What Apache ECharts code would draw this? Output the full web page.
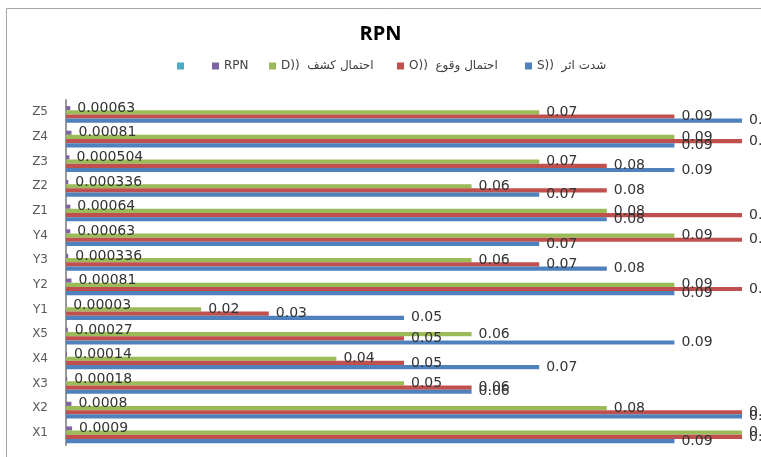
<!DOCTYPE html>
<html>
<head>
<meta charset="utf-8">
<script src="https://cdn.jsdelivr.net/npm/echarts@6/dist/echarts.min.js"></script>
<style>
html,body{margin:0;padding:0;background:#fff;}
#c{width:761px;height:457px;}
</style>
</head>
<body>
<div id="c"></div>
<script>
const categories = ['X1','X2','X3','X4','X5','Y1','Y2','Y3','Y4','Z1','Z2','Z3','Z4','Z5'];
const sValues = [0.09,0.1,0.06,0.07,0.09,0.05,0.09,0.08,0.07,0.08,0.07,0.09,0.09,0.1];
const oValues = [0.1,0.1,0.06,0.05,0.05,0.03,0.1,0.07,0.1,0.1,0.08,0.08,0.1,0.09];
const dValues = [0.1,0.08,0.05,0.04,0.06,0.02,0.09,0.06,0.09,0.08,0.06,0.07,0.09,0.07];
const rpnValues = [0.0009,0.0008,0.00018,0.00014,0.00027,0.00003,0.00081,0.000336,0.00063,0.00064,0.000336,0.000504,0.00081,0.00063];
const emptyValues = [];
const seriesNames = ['S))  شدت اثر','O))  احتمال وقوع','D))  احتمال كشف','RPN',' '];
const seriesColors = ['#4F81BD','#C0504D','#9BBB59','#8064A2','#4BACC6'];
const title = 'RPN';

const chart = echarts.init(document.getElementById('c'), null, {renderer:'canvas'});
const labelStyle = {show:true, position:'right', distance:7, color:'#333', fontFamily:'DejaVu Sans', fontSize:14};
function mk(i, data){
  return {
    name: seriesNames[i], type:'bar', data: data,
    itemStyle:{color: seriesColors[i]},
    label: labelStyle,
    barGap:'0%', barCategoryGap:'15%',
    animation:false
  };
}
const legendPos = [
  {idx:4, left:177},
  {idx:3, left:212},
  {idx:2, left:269},
  {idx:1, left:397},
  {idx:0, left:525}
];
chart.setOption({
  animation:false,
  title:{text:title, left:'center', top:19, textStyle:{fontFamily:'Open Sans', fontWeight:'bold', fontSize:20, color:'#000'}},
  legend: legendPos.map(p => ({
    data:[seriesNames[p.idx]], left:p.left, top:60, icon:'rect', itemWidth:7, itemHeight:7, itemGap:0,
    textStyle:{fontFamily:'DejaVu Sans', fontSize:12, color:'#404040'}, padding:0, selectedMode:false
  })),
  grid:{left:66, right:19, top:100, bottom:12, containLabel:false},
  xAxis:{type:'value', min:0, max:0.1, show:false},
  yAxis:{type:'category', data:categories,
    axisLine:{show:true, lineStyle:{color:'#999', width:2}},
    axisTick:{show:false},
    axisLabel:{color:'#595959', fontFamily:'DejaVu Sans', fontSize:12, margin:18}
  },
  graphic:[{type:'rect', shape:{x:6.5,y:8.5,width:800,height:500}, style:{fill:null, stroke:'#a6a6a6', lineWidth:1}, silent:true}],
  series:[mk(4, emptyValues), mk(3, rpnValues), mk(2, dValues), mk(1, oValues), mk(0, sValues)]
});
</script>
</body>
</html>
